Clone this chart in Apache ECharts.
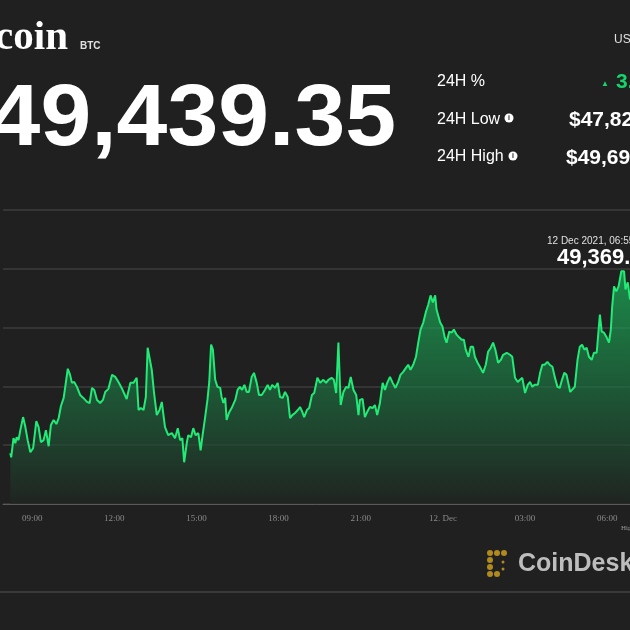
<!DOCTYPE html>
<html>
<head>
<meta charset="utf-8">
<style>
    html,body{margin:0;padding:0;background:#202020;}
    #chart{width:630px;height:630px;}
</style>
<script src="https://cdn.jsdelivr.net/npm/echarts@6/dist/echarts.min.js"></script>
</head>
<body>
<div id="chart"></div>
<script>
    // 11 Dec 2021
    var day11Times = ['08:12','08:14','08:19','08:23','08:26','08:30','08:34','08:40','08:45','08:50','08:56',
        '09:02','09:09','09:14','09:19','09:25','09:30','09:36','09:41','09:47','09:53','09:58',
        '10:03','10:09','10:12','10:18','10:23','10:27','10:32','10:38','10:45','10:52',
        '11:00','11:06','11:11','11:16','11:22','11:29','11:35','11:40','11:47','11:55',
        '12:02','12:09','12:16','12:27','12:35','12:42','12:49','12:53','12:58',
        '13:04','13:09','13:13','13:17','13:22','13:27','13:33','13:39','13:44','13:51','13:58',
        '14:06','14:13','14:19','14:24','14:29','14:33','14:39','14:42','14:48','14:53','14:58',
        '15:04','15:09','15:14','15:19','15:24','15:28','15:32','15:36','15:41','15:46','15:52','15:55','15:59',
        '16:03','16:06','16:11','16:17','16:25','16:30','16:35','16:40','16:45','16:50','16:55',
        '17:01','17:06','17:12','17:17','17:23','17:30','17:36','17:41','17:46','17:52','17:58',
        '18:03','18:09','18:14','18:20','18:25','18:30','18:36','18:42','18:47','18:52','18:56',
        '19:02','19:07','19:13','19:18','19:25','19:31','19:38','19:44','19:49','19:56',
        '20:01','20:06','20:11','20:13','20:16','20:22','20:28','20:33','20:38','20:44','20:50','20:55','20:58',
        '21:04','21:09','21:14','21:20','21:26','21:31','21:36','21:42','21:48','21:53','21:58',
        '22:04','22:10','22:16','22:22','22:27','22:33','22:39','22:44','22:49','22:55',
        '23:01','23:06','23:11','23:17','23:23','23:28','23:33','23:38','23:43','23:46','23:54','23:59'];
    var day11Prices = [47932,47897,48060,48017,48068,48043,48128,48239,48154,48043,47940,
        47974,48205,48154,48026,48043,48128,47991,48171,48214,48180,48231,
        48333,48402,48385,48650,48598,48530,48538,48496,48427,48402,
        48368,48359,48487,48470,48385,48359,48385,48453,48479,48598,
        48581,48538,48487,48393,48530,48530,48573,48299,48316,
        48299,48410,48829,48812,48641,48444,48256,48299,48368,48154,48085,
        48103,48060,48145,48043,48060,47855,48026,48085,48068,48145,48085,
        48103,47957,48103,48239,48385,48538,48855,48812,48556,48496,48487,48410,48359,
        48402,48214,48274,48316,48385,48470,48496,48470,48513,48453,48453,
        48581,48615,48530,48427,48427,48470,48513,48470,48513,48487,48530,
        48410,48402,48453,48410,48231,48256,48274,48299,48325,48282,48239,
        48299,48316,48427,48444,48573,48530,48556,48530,48556,48573,
        48556,48444,48872,48855,48342,48453,48496,48487,48581,48470,48427,48256,48385,
        48393,48239,48282,48325,48316,48342,48256,48359,48530,48470,48530,
        48581,48530,48487,48538,48598,48624,48658,48684,48641,48684,
        48752,48872,48983,49043,49137,49197,49274,49214,49274,49154,49043,49009];

    // 12 Dec 2021
    var day12Times = ['00:04','00:08','00:14','00:19','00:24','00:30','00:36','00:41','00:46','00:50','00:56',
        '01:01','01:06','01:10','01:16','01:21','01:28','01:34','01:39','01:45','01:50','01:55',
        '02:01','02:07','02:12','02:20','02:27','02:32','02:38','02:44','02:49','02:54',
        '03:00','03:06','03:11','03:16','03:21','03:28','03:33','03:38','03:43','03:49','03:54',
        '04:00','04:05','04:11','04:16','04:21','04:26','04:31','04:35','04:39','04:43','04:49','04:55',
        '05:00','05:05','05:10','05:15','05:20','05:26','05:31','05:37','05:40','05:44','05:48','05:53','05:59',
        '06:04','06:08','06:11','06:15','06:20','06:25','06:31','06:37','06:40','06:45','06:50','06:56'];
    var day12Prices = [48915,48872,48966,48957,48983,48940,48915,48897,48897,48812,48752,
        48838,48838,48752,48701,48667,48615,48684,48795,48829,48872,48812,
        48701,48726,48769,48786,48769,48752,48573,48538,48556,48573,
        48444,48513,48538,48496,48513,48513,48615,48684,48684,48709,48684,
        48667,48581,48496,48487,48556,48615,48598,48581,48453,48470,48496,48726,
        48838,48855,48812,48829,48752,48726,48786,48786,48923,49111,48966,48957,48915,
        48872,48983,49180,49350,49308,49350,49479,49479,49325,49385,49240,49369];

    var yTicks = [47500, 48000, 48500, 49000, 49500, 50000];

    var seriesData = [];
    day11Times.forEach(function (t, i) { seriesData.push(['2021-12-11 ' + t, day11Prices[i]]); });
    day12Times.forEach(function (t, i) { seriesData.push(['2021-12-12 ' + t, day12Prices[i]]); });

    function pad(n) { return n < 10 ? '0' + n : '' + n; }

    var sans = '"Liberation Sans", Arial, sans-serif';
    var serif = '"Liberation Serif", "Times New Roman", serif';

    function txt(x, y, text, font, fill, align) {
        return {
            type: 'text', x: x, y: y, silent: true,
            style: { text: text, font: font, fill: fill, align: align || 'left', verticalAlign: 'middle' }
        };
    }
    function dot(x, y, r, fill) {
        return { type: 'circle', shape: { cx: x, cy: y, r: r }, style: { fill: fill }, silent: true };
    }

    var gold = '#b08a1e';
    var green = '#17d46a';
    var bigPrice = txt(396, 121, '$49,439.35', 'bold 87px ' + sans, '#ffffff', 'right');
    bigPrice.scaleX = 1.05;

    var graphics = [
        txt(68, 38, 'Bitcoin', 'bold 41px ' + serif, '#ffffff', 'right'),
        txt(80, 46, 'BTC', 'bold 10px ' + sans, '#e0e0e0'),
        bigPrice,
        txt(614, 40, 'USD', '12px ' + sans, '#e0e0e0'),
        txt(437, 82, '24H %', '16px ' + sans, '#ffffff'),
        txt(605, 84, '▲', '8px ' + sans, green, 'center'),
        txt(616, 82, '3.42%', 'bold 21px ' + sans, green),
        txt(437, 120, '24H Low', '16px ' + sans, '#ffffff'),
        dot(509, 118, 4.5, '#ffffff'), txt(509, 118, 'i', 'bold 7px ' + sans, '#202020', 'center'),
        txt(569, 120, '$47,823.76', 'bold 21px ' + sans, '#ffffff'),
        txt(437, 157, '24H High', '16px ' + sans, '#ffffff'),
        dot(513, 156, 4.5, '#ffffff'), txt(513, 156, 'i', 'bold 7px ' + sans, '#202020', 'center'),
        txt(566, 158, '$49,693.80', 'bold 21px ' + sans, '#ffffff'),
        txt(547, 241, '12 Dec 2021, 06:55', '10px ' + sans, '#e0e0e0'),
        txt(557, 258, '49,369.16', 'bold 22px ' + sans, '#ffffff'),
        txt(621, 528, 'Highcharts.com', '7px ' + serif, '#9a9a9a'),
        { type: 'line', shape: { x1: 0, y1: 592, x2: 630, y2: 592 }, style: { stroke: '#555555', lineWidth: 1 }, silent: true },
        dot(490, 553, 3, gold), dot(497, 553, 3, gold), dot(504, 553, 3, gold),
        dot(490, 560, 3, gold), dot(490, 567, 3, gold), dot(490, 574, 3, gold), dot(497, 574, 3, gold),
        dot(503, 562, 1.5, gold), dot(503, 569, 1.5, gold),
        txt(518, 564, 'CoinDesk', 'bold 25px ' + sans, '#bdbdbd')
    ];

    var chart = echarts.init(document.getElementById('chart'));
    var option = {
        backgroundColor: '#202020',
        animation: false,
        grid: { left: 3, right: 0, top: 210, bottom: 126, outerBoundsMode: 'none', containLabel: false },
        xAxis: {
            type: 'time',
            min: '2021-12-11 07:56',
            max: '2021-12-12 06:50',
            minInterval: 3600 * 1000,
            maxInterval: 3600 * 1000,
            axisLine: { lineStyle: { color: '#5a5a5a', width: 1 } },
            axisTick: { show: false },
            splitLine: { show: false },
            axisLabel: {
                color: '#8a8a8a', fontFamily: serif, fontSize: 9, margin: 10,
                hideOverlap: false,
                formatter: function (val) {
                    var d = new Date(val);
                    var h = d.getHours();
                    if (h % 3 !== 0) return '';
                    if (h === 0) return d.getDate() + '. Dec';
                    return pad(h) + ':00';
                }
            }
        },
        yAxis: {
            type: 'value',
            min: yTicks[0],
            max: yTicks[yTicks.length - 1],
            interval: yTicks[1] - yTicks[0],
            axisLabel: { show: false },
            axisLine: { show: false },
            axisTick: { show: false },
            splitLine: { lineStyle: { color: '#3c3c3c', width: 1.5 } }
        },
        series: [{
            type: 'line',
            data: seriesData,
            showSymbol: false,
            lineStyle: { color: '#22ea76', width: 2 },
            areaStyle: {
                color: new echarts.graphic.LinearGradient(0, 0, 0, 1, [
                    { offset: 0, color: 'rgba(24,200,98,0.9)' },
                    { offset: 1, color: 'rgba(32,38,34,0.95)' }
                ])
            }
        }],
        graphic: graphics
    };
    chart.setOption(option);
</script>
</body>
</html>
